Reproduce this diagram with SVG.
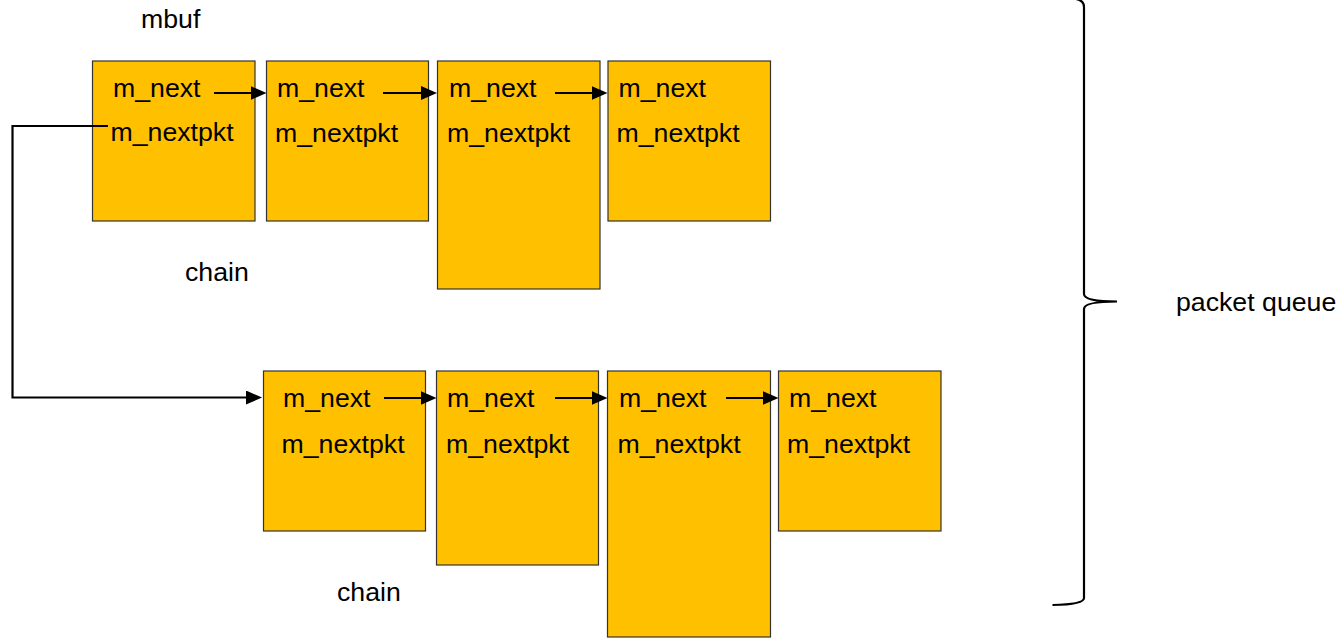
<svg xmlns="http://www.w3.org/2000/svg" width="1340" height="639" viewBox="0 0 1340 639">
<style>
.box{fill:#FFC000;stroke:#333333;stroke-width:1.2}
.t{font-family:"Liberation Sans",Arial,sans-serif;font-size:26.7px;fill:#000}
.c{fill:none;stroke:#000;stroke-width:2.2}
</style>
<defs>
<marker id="ah" markerUnits="userSpaceOnUse" markerWidth="16" markerHeight="14" refX="8" refY="7" orient="auto" viewBox="0 0 16 14">
<path d="M0,0 L16,7 L0,14 z" fill="#000"/>
</marker>
</defs>
<rect width="1340" height="639" fill="#fff"/>
<g id="labels">
<text class="t" x="141" y="28">mbuf</text>
<text class="t" x="185" y="281">chain</text>
<text class="t" x="337" y="601">chain</text>
<text class="t" x="1176" y="311">packet queue</text>
</g>
<g id="r1b1"><rect class="box" x="92.5" y="61" width="162.5" height="160"/><text class="t" x="113" y="97">m_next</text><text class="t" x="110.5" y="141">m_nextpkt</text></g>
<g id="r1b2"><rect class="box" x="266.5" y="61" width="162" height="160"/><text class="t" x="277" y="97">m_next</text><text class="t" x="275" y="141.5">m_nextpkt</text></g>
<g id="r1b3"><rect class="box" x="437.5" y="61" width="162.5" height="228"/><text class="t" x="449" y="97">m_next</text><text class="t" x="447" y="141.5">m_nextpkt</text></g>
<g id="r1b4"><rect class="box" x="608" y="61" width="162.5" height="160"/><text class="t" x="618.5" y="97">m_next</text><text class="t" x="616.5" y="141.5">m_nextpkt</text></g>
<g id="r2b1"><rect class="box" x="263.5" y="371" width="162" height="160"/><text class="t" x="283" y="407">m_next</text><text class="t" x="281.5" y="453">m_nextpkt</text></g>
<g id="r2b2"><rect class="box" x="436.5" y="371" width="162" height="194"/><text class="t" x="447" y="407">m_next</text><text class="t" x="446" y="453">m_nextpkt</text></g>
<g id="r2b3"><rect class="box" x="607.5" y="371" width="163" height="266"/><text class="t" x="619" y="407">m_next</text><text class="t" x="617.5" y="453">m_nextpkt</text></g>
<g id="r2b4"><rect class="box" x="778.5" y="371" width="162.5" height="160"/><text class="t" x="789" y="407">m_next</text><text class="t" x="787" y="453">m_nextpkt</text></g>
<g id="connectors">
<path class="c" d="M214,93 H258.5" marker-end="url(#ah)"/>
<path class="c" d="M383,93 H429" marker-end="url(#ah)"/>
<path class="c" d="M555,93 H599.5" marker-end="url(#ah)"/>
<path class="c" d="M384,398 H428.5" marker-end="url(#ah)"/>
<path class="c" d="M555,398 H599.5" marker-end="url(#ah)"/>
<path class="c" d="M726,398 H770.5" marker-end="url(#ah)"/>
<path class="c" d="M108,126 H12.5 V397.5 H254" marker-end="url(#ah)"/>
<path class="c" d="M1052.5,605 Q1084,604.5 1084,598 L1084,309 Q1084,301.5 1117,301.5 Q1084,301.5 1084,294 L1084,7 Q1084,0.5 1076,-1"/>
</g>
</svg>
